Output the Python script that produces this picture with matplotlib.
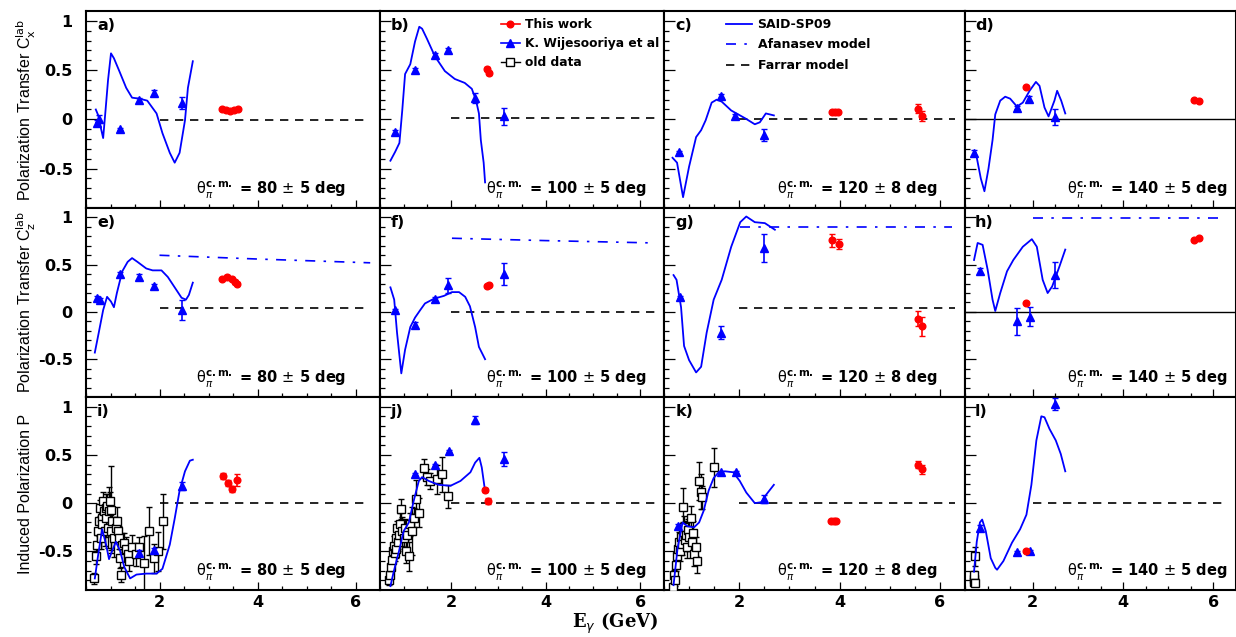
import matplotlib
matplotlib.use("Agg")
import matplotlib.pyplot as plt
from matplotlib.lines import Line2D
from matplotlib import font_manager

# ---- data ----
panels = "abcdefghijkl"
angles = ["80", "100", "120", "140"]
spreads = ["5", "5", "8", "5"]
row_labels = [r"Polarization Transfer C$_{\mathrm{x}}^{\mathrm{lab}}$",
              r"Polarization Transfer C$_{\mathrm{z}}^{\mathrm{lab}}$",
              "Induced Polarization P"]
y_ticks = [-0.5, 0, 0.5, 1]
y_ticklabels = ["-0.5", "0", "0.5", "1"]
x_ticks = [2, 4, 6]
x_ticklabels = ["2", "4", "6"]

# SAID-SP09 curves
said_x = {
    "a": [0.70, 0.75, 0.80, 0.85, 0.90, 0.95, 1.01, 1.07, 1.18, 1.32, 1.44, 1.59, 1.75, 1.94, 2.06, 2.21, 2.31, 2.41, 2.52, 2.58, 2.68],
    "b": [0.72, 0.82, 0.91, 0.97, 1.03, 1.14, 1.24, 1.33, 1.39, 1.49, 1.66, 1.87, 2.08, 2.29, 2.44, 2.53, 2.59, 2.63, 2.69, 2.72],
    "c": [0.67, 0.76, 0.88, 1.00, 1.14, 1.24, 1.33, 1.45, 1.55, 1.65, 1.84, 2.12, 2.31, 2.41, 2.53, 2.69],
    "d": [0.74, 0.85, 0.93, 1.02, 1.11, 1.17, 1.28, 1.39, 1.50, 1.65, 1.78, 1.93, 2.07, 2.15, 2.26, 2.35, 2.48, 2.54, 2.63, 2.72],
    "e": [0.68, 0.76, 0.85, 0.93, 1.01, 1.07, 1.13, 1.24, 1.35, 1.44, 1.55, 1.73, 1.86, 2.04, 2.17, 2.31, 2.45, 2.54, 2.60, 2.68],
    "f": [0.72, 0.80, 0.86, 0.95, 1.03, 1.14, 1.24, 1.35, 1.45, 1.64, 1.85, 2.02, 2.17, 2.30, 2.40, 2.51, 2.59, 2.72],
    "g": [0.69, 0.75, 0.84, 0.90, 1.00, 1.14, 1.24, 1.35, 1.49, 1.65, 1.84, 2.02, 2.14, 2.31, 2.51, 2.71],
    "h": [0.70, 0.78, 0.89, 1.00, 1.11, 1.17, 1.28, 1.43, 1.57, 1.78, 1.98, 2.09, 2.22, 2.33, 2.43, 2.59, 2.72],
    "i": [0.68, 0.75, 0.83, 0.91, 0.97, 1.03, 1.11, 1.20, 1.28, 1.40, 1.53, 1.73, 1.94, 2.06, 2.21, 2.31, 2.41, 2.52, 2.62, 2.68],
    "j": [0.72, 0.79, 0.90, 1.00, 1.11, 1.21, 1.32, 1.39, 1.53, 1.74, 1.99, 2.20, 2.41, 2.51, 2.60, 2.65, 2.71],
    "k": [0.69, 0.77, 0.87, 0.97, 1.10, 1.20, 1.29, 1.39, 1.49, 1.59, 1.72, 1.88, 2.01, 2.14, 2.31, 2.44, 2.54, 2.69],
    "l": [0.70, 0.76, 0.83, 0.88, 0.96, 1.07, 1.17, 1.21, 1.35, 1.54, 1.72, 1.86, 1.97, 2.08, 2.19, 2.26, 2.37, 2.51, 2.62, 2.72],
}
said_y = {
    "a": [0.10, 0.04, -0.08, -0.19, 0.10, 0.40, 0.67, 0.62, 0.49, 0.32, 0.22, 0.21, 0.19, 0.06, -0.14, -0.34, -0.44, -0.34, -0.01, 0.32, 0.59],
    "b": [-0.42, -0.33, -0.24, 0.09, 0.46, 0.56, 0.79, 0.94, 0.92, 0.82, 0.64, 0.49, 0.41, 0.37, 0.31, 0.19, 0.06, -0.21, -0.44, -0.64],
    "c": [-0.39, -0.44, -0.79, -0.48, -0.18, -0.11, -0.01, 0.17, 0.20, 0.18, 0.09, 0.01, -0.05, -0.03, 0.06, 0.04],
    "d": [-0.34, -0.60, -0.73, -0.50, -0.21, 0.05, 0.19, 0.23, 0.21, 0.13, 0.17, 0.29, 0.38, 0.34, 0.12, 0.03, 0.19, 0.29, 0.19, 0.06],
    "e": [-0.43, -0.22, 0.02, 0.16, 0.11, 0.05, 0.20, 0.43, 0.53, 0.57, 0.53, 0.46, 0.44, 0.44, 0.37, 0.26, 0.15, 0.13, 0.18, 0.31],
    "f": [0.26, 0.13, -0.22, -0.65, -0.40, -0.16, -0.06, 0.02, 0.09, 0.14, 0.17, 0.21, 0.21, 0.16, 0.06, -0.16, -0.37, -0.50],
    "g": [0.39, 0.34, 0.05, -0.36, -0.51, -0.64, -0.58, -0.22, 0.13, 0.34, 0.69, 0.95, 1.01, 0.95, 0.94, 0.87],
    "h": [0.55, 0.73, 0.71, 0.45, 0.13, 0.01, 0.20, 0.43, 0.55, 0.69, 0.77, 0.69, 0.34, 0.20, 0.27, 0.48, 0.66],
    "i": [-0.78, -0.53, -0.27, -0.43, -0.58, -0.50, -0.40, -0.50, -0.66, -0.78, -0.74, -0.73, -0.73, -0.68, -0.43, -0.16, 0.13, 0.33, 0.44, 0.45],
    "j": [-0.86, -0.71, -0.50, -0.29, -0.20, 0.02, 0.23, 0.27, 0.23, 0.19, 0.18, 0.23, 0.32, 0.42, 0.47, 0.37, 0.16],
    "k": [-0.85, -0.47, -0.20, -0.24, -0.25, -0.20, -0.08, 0.13, 0.26, 0.32, 0.33, 0.32, 0.23, 0.11, 0.00, 0.01, 0.09, 0.19],
    "l": [-0.71, -0.40, -0.20, -0.17, -0.29, -0.57, -0.67, -0.69, -0.60, -0.41, -0.27, -0.12, 0.19, 0.65, 0.90, 0.89, 0.77, 0.65, 0.51, 0.33],
}

# K. Wijesooriya et al
wij_x = {
    "a": [0.72, 0.77, 1.20, 1.59, 1.88, 2.45], "b": [0.82, 1.24, 1.66, 1.94, 2.51, 3.12],
    "c": [0.80, 1.63, 1.92, 2.49], "d": [0.70, 1.65, 1.91, 2.50],
    "e": [0.72, 0.78, 1.20, 1.59, 1.88, 2.45], "f": [0.82, 1.24, 1.66, 1.94, 3.12],
    "g": [0.82, 1.63, 2.49], "h": [0.83, 1.65, 1.93, 2.50],
    "i": [1.59, 1.88, 2.45], "j": [1.24, 1.66, 1.95, 2.50, 3.11],
    "k": [0.77, 1.64, 1.93, 2.49], "l": [0.83, 1.65, 1.93, 2.49],
}
wij_y = {
    "a": [-0.04, 0.00, -0.10, 0.20, 0.27, 0.17], "b": [-0.13, 0.50, 0.65, 0.70, 0.22, 0.03],
    "c": [-0.33, 0.24, 0.03, -0.16], "d": [-0.34, 0.12, 0.21, 0.02],
    "e": [0.15, 0.13, 0.40, 0.37, 0.27, 0.02], "f": [0.02, -0.14, 0.14, 0.28, 0.40],
    "g": [0.16, -0.22, 0.68], "h": [0.43, -0.10, -0.05, 0.39],
    "i": [-0.52, -0.49, 0.18], "j": [0.30, 0.40, 0.54, 0.86, 0.46],
    "k": [-0.24, 0.32, 0.32, 0.04], "l": [-0.26, -0.51, -0.50, 1.03],
}
wij_err = {
    "a": [0.03, 0.04, 0.01, 0.02, 0.03, 0.06], "b": [0.02, 0.02, 0.02, 0.02, 0.05, 0.09],
    "c": [0.01, 0.02, 0.02, 0.06], "d": [0.03, 0.02, 0.03, 0.08],
    "e": [0.02, 0.02, 0.02, 0.03, 0.03, 0.11], "f": [0.01, 0.03, 0.02, 0.08, 0.12],
    "g": [0.01, 0.07, 0.15], "h": [0.03, 0.14, 0.10, 0.14],
    "i": [0.03, 0.03, 0.04], "j": [0.01, 0.01, 0.01, 0.04, 0.07],
    "k": [0.02, 0.01, 0.01, 0.04], "l": [0.03, 0.01, 0.01, 0.06],
}

# This work
this_x = {
    "a": [3.28, 3.36, 3.44, 3.52, 3.60], "b": [2.76, 2.80], "c": [3.84, 3.90, 3.96, 5.57, 5.65],
    "d": [1.85, 5.57, 5.67], "e": [3.28, 3.38, 3.48, 3.55, 3.59], "f": [2.76, 2.80],
    "g": [3.84, 3.98, 5.57, 5.65], "h": [1.85, 5.57, 5.67], "i": [3.30, 3.40, 3.48, 3.59],
    "j": [2.72, 2.79], "k": [3.83, 3.88, 3.93, 5.57, 5.65], "l": [1.85],
}
this_y = {
    "a": [0.10, 0.09, 0.08, 0.09, 0.10], "b": [0.51, 0.47], "c": [0.07, 0.07, 0.07, 0.11, 0.03],
    "d": [0.33, 0.20, 0.19], "e": [0.35, 0.37, 0.35, 0.32, 0.30], "f": [0.27, 0.28],
    "g": [0.76, 0.72, -0.07, -0.15], "h": [0.09, 0.76, 0.78], "i": [0.28, 0.21, 0.15, 0.24],
    "j": [0.14, 0.02], "k": [-0.18, -0.18, -0.18, 0.40, 0.35], "l": [-0.50],
}
this_err = {
    "a": [0.01, 0.01, 0.01, 0.01, 0.01], "b": [0.02, 0.02], "c": [0.01, 0.01, 0.01, 0.05, 0.05],
    "d": [0.01, 0.01, 0.01], "e": [0.01, 0.02, 0.01, 0.02, 0.02], "f": [0.01, 0.01],
    "g": [0.07, 0.05, 0.08, 0.10], "h": [0.01, 0.01, 0.01], "i": [0.03, 0.03, 0.03, 0.06],
    "j": [0.02, 0.03], "k": [0.01, 0.01, 0.01, 0.04, 0.05], "l": [0.01],
}

# old data (induced polarization only)
old_x = {
    "i": [0.66, 0.71, 0.73, 0.75, 0.76, 0.78, 0.80, 0.82, 0.83, 0.85, 0.87, 0.89, 0.90, 0.91, 0.93, 0.95, 0.97, 0.98, 1.00, 1.02, 1.04,
          1.07, 1.11, 1.14, 1.16, 1.18, 1.19, 1.21, 1.24, 1.28, 1.31, 1.35, 1.38, 1.44, 1.52, 1.59, 1.69, 1.78, 1.88, 1.97, 2.07],
    "j": [0.69, 0.72, 0.74, 0.76, 0.77, 0.79, 0.81, 0.83, 0.84, 0.86, 0.88, 0.90, 0.93, 0.95, 0.97, 1.00, 1.03, 1.04, 1.07, 1.11,
          1.14, 1.18, 1.22, 1.25, 1.32, 1.43, 1.49, 1.56, 1.71, 1.81, 1.94],
    "k": [0.68, 0.69, 0.71, 0.73, 0.75, 0.77, 0.79, 0.81, 0.83, 0.85, 0.87, 0.88, 0.90, 0.92, 0.94, 0.96, 0.98, 1.00, 1.03, 1.05,
          1.07, 1.10, 1.13, 1.16, 1.20, 1.23, 1.26, 1.49],
    "l": [0.69, 0.70, 0.71, 0.72, 0.72],
}
old_y = {
    "i": [-0.78, -0.55, -0.43, -0.29, -0.19, -0.05, -0.36, -0.15, -0.22, 0.02, -0.08, -0.29, -0.15, -0.05, -0.03, -0.26, -0.08, 0.02,
          -0.07, -0.29, -0.19, -0.36, -0.26, -0.19, -0.29, -0.36, -0.57, -0.74, -0.43, -0.41, -0.47, -0.53, -0.60, -0.45, -0.53, -0.45,
          -0.62, -0.29, -0.57, -0.50, -0.19],
    "j": [-0.80, -0.74, -0.66, -0.59, -0.50, -0.44, -0.52, -0.47, -0.36, -0.26, -0.40, -0.33, -0.22, -0.06, -0.29, -0.36, -0.26, -0.50,
          -0.33, -0.55, -0.22, -0.29, -0.15, 0.04, -0.10, 0.36, 0.27, 0.23, 0.25, 0.30, 0.07],
    "k": [-0.87, -0.74, -0.80, -0.64, -0.55, -0.47, -0.40, -0.50, -0.35, -0.42, -0.30, -0.04, -0.25, -0.38, -0.33, -0.45, -0.28, -0.35,
          -0.15, -0.40, -0.31, -0.53, -0.45, -0.60, 0.23, 0.12, 0.06, 0.37],
    "l": [-0.79, -0.82, -0.74, -0.83, -0.55],
}
old_err = {
    "i": [0.06, 0.08, 0.10, 0.12, 0.15, 0.08, 0.12, 0.10, 0.15, 0.10, 0.12, 0.15, 0.20, 0.15, 0.12, 0.20, 0.25, 0.10, 0.45, 0.20, 0.15,
          0.20, 0.12, 0.15, 0.10, 0.12, 0.10, 0.08, 0.12, 0.10, 0.12, 0.10, 0.10, 0.12, 0.12, 0.10, 0.28, 0.25, 0.15, 0.20, 0.28],
    "j": [0.05, 0.06, 0.06, 0.08, 0.08, 0.10, 0.08, 0.10, 0.10, 0.08, 0.10, 0.10, 0.12, 0.10, 0.15, 0.12, 0.10, 0.12, 0.12, 0.15,
          0.12, 0.25, 0.10, 0.20, 0.15, 0.10, 0.08, 0.08, 0.15, 0.18, 0.12],
    "k": [0.04, 0.05, 0.06, 0.06, 0.08, 0.08, 0.10, 0.10, 0.10, 0.12, 0.10, 0.20, 0.12, 0.12, 0.15, 0.12, 0.12, 0.15, 0.12, 0.10,
          0.12, 0.12, 0.10, 0.12, 0.20, 0.18, 0.12, 0.20],
    "l": [0.03, 0.03, 0.04, 0.03, 0.10],
}

# models
afanasev_x = {"e": [2.0, 4.0, 6.3], "f": [2.02, 4.0, 6.3], "g": [2.02, 6.25], "h": [2.0, 6.2]}
afanasev_y = {"e": [0.60, 0.56, 0.52], "f": [0.78, 0.755, 0.73], "g": [0.90, 0.90], "h": [0.99, 0.99]}
farrar_x = [2.0, 6.3]
farrar_y = {"a": -0.01, "b": 0.01, "c": 0.0, "e": 0.04, "f": 0.0, "g": 0.04,
            "i": 0.0, "j": 0.0, "k": 0.0, "l": 0.0}
zero_line_panels = ["d", "h"]

# ---- style ----
plt.rcParams["font.family"] = "DejaVu Sans"
plt.rcParams["axes.linewidth"] = 1.5
names = {f.name for f in font_manager.fontManager.ttflist}
label_font = "Liberation Sans Narrow" if "Liberation Sans Narrow" in names else "Liberation Sans"
label_size = 13.5 if label_font == "Liberation Sans Narrow" else 11.5

fig = plt.figure(figsize=(12.36, 6.37), dpi=100)
gs = fig.add_gridspec(3, 4, left=86 / 1236, right=1.0, top=1 - 11 / 637, bottom=1 - 590 / 637,
                      wspace=0, hspace=0, width_ratios=[294, 284, 301, 271], height_ratios=[197, 189, 193])
xlims = [(0.5, 6.5), (0.5, 6.5), (0.5, 6.5), (0.5, 6.41)]

for n, p in enumerate(panels):
    r, c = divmod(n, 4)
    ax = fig.add_subplot(gs[r, c])
    ax.set_xlim(xlims[c])
    ax.set_ylim(-0.9, 1.1)

    if p in farrar_y:
        ax.plot(farrar_x, [farrar_y[p]] * 2, color="black", lw=1.2, ls=(0, (5, 4)))
    if p in zero_line_panels:
        ax.axhline(0, color="black", lw=1.0)
    if p in afanasev_x:
        ax.plot(afanasev_x[p], afanasev_y[p], color="blue", lw=1.2, ls=(0, (6, 5, 1.5, 5)))
    if p in old_x:
        ax.errorbar(old_x[p], old_y[p], yerr=old_err[p], fmt="s", ms=5.5, mfc="white", mec="black",
                    mew=1.0, ecolor="black", elinewidth=1.0, capsize=2, zorder=3)
    ax.plot(said_x[p], said_y[p], color="blue", lw=1.3, zorder=4)
    ax.errorbar(wij_x[p], wij_y[p], yerr=wij_err[p], fmt="^", ms=6, color="blue",
                elinewidth=1.2, capsize=2, zorder=5)
    ax.errorbar(this_x[p], this_y[p], yerr=this_err[p], fmt="o", ms=4.8, color="red",
                elinewidth=1.2, capsize=2, zorder=6)

    ax.text(0.037, 0.965, p + ")", transform=ax.transAxes, ha="left", va="top",
            fontsize=11.5, fontweight="bold")
    ax.text(2.75, -0.76, r"$\mathrm{\theta}_{\pi}^{\mathbf{c.m.}}$ = " + angles[c] + r" $\pm$ " + spreads[c] + " deg",
            fontsize=10.5, fontweight="bold", va="baseline", ha="left")

    ax.set_xticks(x_ticks)
    ax.set_xticks([0.5 * k for k in range(1, 14)], minor=True)
    ax.set_yticks(y_ticks)
    ax.set_yticks([0.1 * k for k in range(-8, 11)], minor=True)
    ax.tick_params(which="both", direction="in", top=False, right=False, width=0.9)
    ax.tick_params(axis="y", which="major", length=8, pad=9.5)
    ax.tick_params(axis="y", which="minor", length=3.5)
    ax.tick_params(axis="x", which="major", length=6, pad=3.5)
    ax.tick_params(axis="x", which="minor", length=3)
    if c == 0:
        ax.set_yticklabels(y_ticklabels, fontsize=11.5, fontweight="bold")
    else:
        ax.tick_params(labelleft=False)
    if r == 2:
        ax.set_xticklabels(x_ticklabels, fontsize=11.5, fontweight="bold")
    else:
        ax.tick_params(labelbottom=False)

    if p == "b":
        h = [Line2D([], [], color="red", marker="o", ms=4.8, lw=1.2),
             Line2D([], [], color="blue", marker="^", ms=6, lw=1.2),
             Line2D([], [], color="black", marker="s", ms=5.5, mfc="white", lw=1.0)]
        ax.legend(h, ["This work", "K. Wijesooriya et al", "old data"], loc="upper left",
                  bbox_to_anchor=(0.425, 0.965), frameon=False, borderpad=0, borderaxespad=0,
                  handlelength=1.6, handletextpad=0.35, labelspacing=0.5,
                  prop={"weight": "bold", "size": 8.8})
    if p == "c":
        h = [Line2D([], [], color="blue", lw=1.3),
             Line2D([], [], color="blue", lw=1.2, ls=(0, (6, 5, 1.5, 5))),
             Line2D([], [], color="black", lw=1.2, ls=(0, (5, 4)))]
        ax.legend(h, ["SAID-SP09", "Afanasev model", "Farrar model"], loc="upper left",
                  bbox_to_anchor=(0.205, 0.965), frameon=False, borderpad=0, borderaxespad=0,
                  handlelength=2.1, handletextpad=0.45, labelspacing=0.6,
                  prop={"weight": "bold", "size": 9})

row_centers = [1 - 110 / 637, 1 - 302 / 637, 1 - 494 / 637]
for lab, yc in zip(row_labels, row_centers):
    fig.text(0.021, yc, lab, rotation=90, ha="center", va="center",
             fontsize=label_size, family=label_font)
fig.text(615 / 1236, 1 - 628 / 637, r"E$_{\gamma}$ (GeV)", ha="center", va="baseline",
         fontsize=13, fontweight="bold", family="DejaVu Serif")

fig.savefig("out.png", dpi=100)
